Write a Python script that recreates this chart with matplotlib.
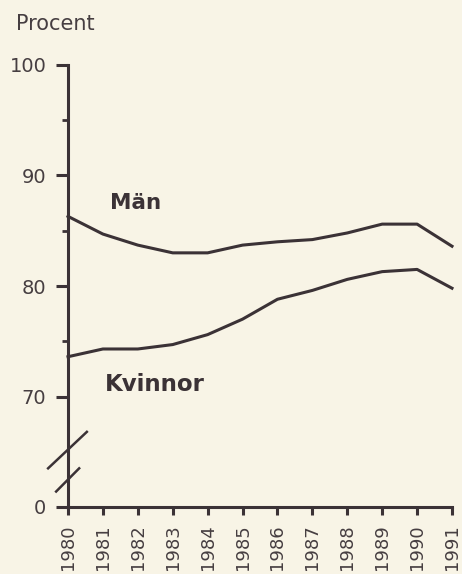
import matplotlib.pyplot as plt
from matplotlib.ticker import FixedLocator

# data
years = list(range(1980, 1992))
man = [86.3, 84.7, 83.7, 83.0, 83.0, 83.7, 84.0, 84.2, 84.8, 85.6, 85.6, 83.6]
kvinnor = [73.6, 74.3, 74.3, 74.7, 75.6, 77.0, 78.8, 79.6, 80.6, 81.3, 81.5, 79.8]
y_ticks = [60, 70, 80, 90, 100]
y_labels = ['0', '70', '80', '90', '100']
minor_ticks = [75, 85, 95]

ink = '#3b3236'
txt = '#463e41'
paper = '#f8f4e6'

plt.rcParams['font.family'] = ['DejaVu Sans']

fig = plt.figure(figsize=(4.62, 5.74), dpi=100, facecolor=paper)
ax = fig.add_axes([68/462, 67/574, 384/462, 442/574])
ax.set_facecolor(paper)

ax.plot(years, man, color=ink, lw=2.2, clip_on=False)
ax.plot(years, kvinnor, color=ink, lw=2.2, clip_on=False)

ax.set_xlim(1980, 1991)
ax.set_ylim(60, 100)
for s in ['top', 'right']:
    ax.spines[s].set_visible(False)
for s in ['left', 'bottom']:
    ax.spines[s].set_color(ink)
    ax.spines[s].set_linewidth(2.2)

ax.set_xticks(years)
ax.set_xticklabels([str(y) for y in years], rotation=90, fontsize=13, color=txt)
ax.set_yticks(y_ticks)
ax.set_yticklabels(y_labels, fontsize=14, color=txt)
ax.yaxis.set_minor_locator(FixedLocator(minor_ticks))
ax.tick_params(axis='y', which='major', length=8.5, width=2.2, color=ink, pad=7)
ax.tick_params(axis='y', which='minor', length=4, width=2, color=ink)
ax.tick_params(axis='x', which='major', length=6, width=2.2, color=ink, pad=6.5)

# axelbrott
ax.plot([1979.43, 1980.54], [63.5, 66.8], color=ink, lw=1.8, clip_on=False)
ax.plot([1979.66, 1980.32], [61.4, 63.5], color=ink, lw=1.8, clip_on=False)

ax.text(1981.2, 87.5, 'Män', fontsize=15.5, fontweight='bold', color=ink, va='center')
ax.text(1981.06, 71.1, 'Kvinnor', fontsize=16.5, fontweight='bold', color=ink, va='center')

fig.text(16/462, 1 - 30/574, 'Procent', fontsize=15, color=txt, va='baseline')

fig.savefig('out.png', dpi=100, facecolor=paper)
